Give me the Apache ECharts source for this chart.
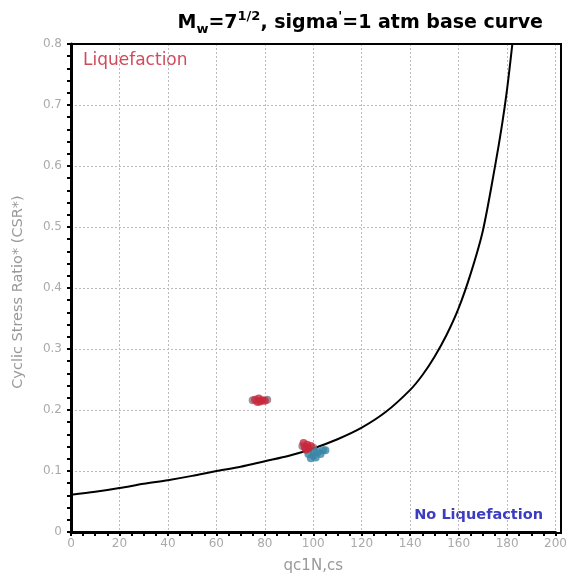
<!DOCTYPE html>
<html>
<head>
<meta charset="utf-8">
<script src="https://cdn.jsdelivr.net/npm/echarts@6/dist/echarts.min.js"></script>
<style>html,body{margin:0;padding:0;background:#fff}#c{width:570px;height:579px}</style>
</head>
<body>
<div id="c"></div>
<script>
// Base curve (qc1N,cs vs CSR*)
const curveQ =   [0,     10,    20,    30,    40,    50,    60,    70,    80,    90,    100,   110,   120,   130,   140,   145,   150,   155,   160,   165,   170,   175,   178,   180,   182,   184];
const curveCSR = [0.061, 0.066, 0.072, 0.079, 0.085, 0.092, 0.100, 0.107, 0.116, 0.125, 0.137, 0.152, 0.171, 0.197, 0.233, 0.257, 0.287, 0.323, 0.367, 0.424, 0.494, 0.599, 0.670, 0.726, 0.794, 0.870];
// Red points (cluster)
const redQ =   [76,    77.5,  79,    78,    80,    77,    96,    97.5,  99,    96.5,  98,    97];
const redCSR = [0.217, 0.219, 0.216, 0.214, 0.215, 0.213, 0.146, 0.143, 0.141, 0.139, 0.137, 0.135];
// Gray points
const grayQ =   [75,    81,    95.5,  100];
const grayCSR = [0.216, 0.217, 0.141, 0.138];
// Blue/teal points
const blueQ =   [98,    100,   102,   104,   99,    101,   103,   105,   100.5];
const blueCSR = [0.128, 0.125, 0.131, 0.134, 0.121, 0.122, 0.128, 0.134, 0.132];
const xTicks = [0, 20, 40, 60, 80, 100, 120, 140, 160, 180, 200];
const yTicks = [0, 0.1, 0.2, 0.3, 0.4, 0.5, 0.6, 0.7, 0.8];

const zip = (a, b) => a.map((v, i) => [v, b[i]]);
const FONT = 'DejaVu Sans';
const chart = echarts.init(document.getElementById('c'), null, {renderer: 'canvas'});
chart.setOption({
  animation: false,
  backgroundColor: '#fff',
  title: {
    text: '{m|M}{sub|w}{m|=7}{sup|1/2}{m|, sigma}{sup|\'}{m|=1 atm base curve}',
    right: 22, top: 2,
    textStyle: {
      rich: {
        m: {fontFamily: FONT, fontWeight: 'bold', fontSize: 19, color: '#000', lineHeight: 32, verticalAlign: 'middle'},
        sub: {fontFamily: FONT, fontWeight: 'bold', fontSize: 13, color: '#000', lineHeight: 32, verticalAlign: 'bottom', padding: [0,0,3,0]},
        sup: {fontFamily: FONT, fontWeight: 'bold', fontSize: 13, color: '#000', lineHeight: 32, verticalAlign: 'top', padding: [3,0,0,0]}
      }
    }
  },
  grid: {left: 71, right: 9, top: 44, bottom: 46, containLabel: false},
  xAxis: {
    type: 'value', min: xTicks[0], max: xTicks[xTicks.length - 1], interval: 20,
    name: 'qc1N,cs', nameLocation: 'middle', nameGap: 27,
    nameTextStyle: {fontFamily: FONT, fontSize: 15, color: '#999'},
    axisLine: {lineStyle: {color: '#000', width: 3}},
    axisTick: {show: true, length: 4, lineStyle: {color: '#000', width: 2}},
    minorTick: {show: true, splitNumber: 4, length: 4, lineStyle: {color: '#000', width: 2}},
    axisLabel: {fontFamily: FONT, fontSize: 12, color: '#aaa', margin: 6},
    splitLine: {show: true, lineStyle: {color: '#bbb', type: [2, 2], width: 1}}
  },
  yAxis: {
    type: 'value', min: yTicks[0], max: yTicks[yTicks.length - 1], interval: 0.1,
    axisLine: {lineStyle: {color: '#000', width: 3}},
    axisTick: {show: true, length: 4, lineStyle: {color: '#000', width: 2}},
    minorTick: {show: true, splitNumber: 5, length: 4, lineStyle: {color: '#000', width: 2}},
    axisLabel: {fontFamily: FONT, fontSize: 12, color: '#aaa', margin: 9},
    splitLine: {show: true, lineStyle: {color: '#bbb', type: [2, 2], width: 1}}
  },
  graphic: [
    {type: 'rect', shape: {x: 71, y: 44, width: 490, height: 489}, style: {fill: 'none', stroke: '#000', lineWidth: 2}, z: 10, silent: true},
    {type: 'text', x: 18, y: 292, rotation: Math.PI / 2, style: {text: 'Cyclic Stress Ratio* (CSR*)', fontFamily: FONT, fontSize: 14.5, fill: '#999', align: 'center', verticalAlign: 'middle'}},
    {type: 'text', x: 83, y: 61, style: {text: 'Liquefaction', fontFamily: FONT, fontSize: 17, fill: '#d04a5a', align: 'left', verticalAlign: 'middle'}},
    {type: 'text', x: 543, y: 515, style: {text: 'No Liquefaction', fontFamily: FONT, fontSize: 14.5, fontWeight: 'bold', fill: '#3c3cc0', align: 'right', verticalAlign: 'middle'}}
  ],
  series: [
    {type: 'line', data: zip(curveQ, curveCSR), showSymbol: false, symbol: 'none', smooth: 0.3, lineStyle: {color: '#000', width: 2}, clip: true, z: 3},
    {type: 'scatter', data: zip(grayQ, grayCSR), symbol: 'circle', symbolSize: 8, itemStyle: {color: '#8a7080', opacity: 0.8}, z: 4},
    {type: 'scatter', data: zip(blueQ, blueCSR), symbol: 'circle', symbolSize: 8, itemStyle: {color: '#3a86a8'}, z: 5},
    {type: 'scatter', data: zip(redQ, redCSR), symbol: 'circle', symbolSize: 8, itemStyle: {color: '#c8283c'}, z: 6}
  ]
});
</script>
</body>
</html>
